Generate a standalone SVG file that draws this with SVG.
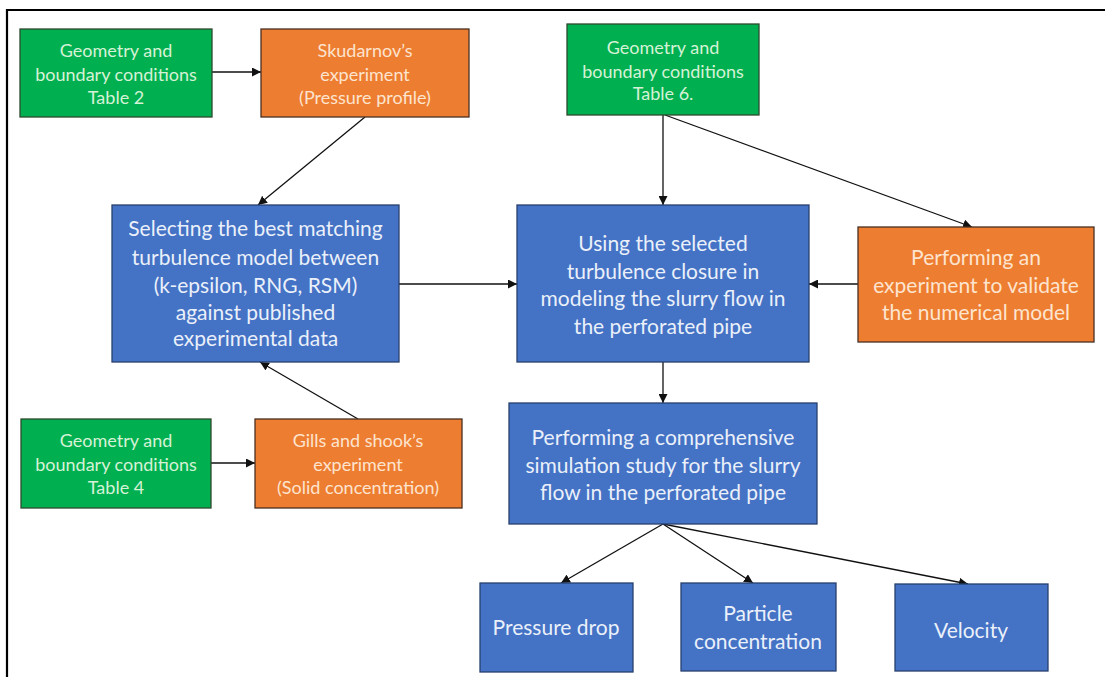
<svg xmlns="http://www.w3.org/2000/svg" width="1105" height="677" viewBox="0 0 1105 677">
<defs>
<marker id="ah" viewBox="0 0 10 10" refX="10" refY="5" markerWidth="9" markerHeight="9" markerUnits="userSpaceOnUse" orient="auto">
<path d="M0,0 L10,5 L0,10 z" fill="#111"/>
</marker>
<style>
.g{fill:#00b050;stroke:#2d4a2d;stroke-width:1.3}
.o{fill:#ed7d31;stroke:#4a3020;stroke-width:1.3}
.b{fill:#4472c4;stroke:#27406e;stroke-width:1.3}
text{font-family:Lato,"Open Sans","Liberation Sans",sans-serif;text-anchor:middle}
.gt{fill:#d6f2d6;font-size:18px}
.ot{fill:#fde4cf;font-size:18px}
.bt{fill:#eaf0fa;font-size:21px}
.ct line{stroke:#111;stroke-width:1.3;marker-end:url(#ah)}
</style>
</defs>
<rect x="0" y="0" width="1105" height="677" fill="#fff"/>
<path d="M7,677 V10 H1105" fill="none" stroke="#000" stroke-width="2.2"/>
<g class="ct" id="connectors">
<line x1="212" y1="72" x2="261" y2="72"/>
<line x1="365" y1="117" x2="258" y2="205"/>
<line x1="358" y1="419" x2="260" y2="362"/>
<line x1="211" y1="463" x2="255" y2="463"/>
<line x1="399" y1="284" x2="517" y2="284"/>
<line x1="663" y1="115" x2="663" y2="205"/>
<line x1="665" y1="115" x2="972" y2="227"/>
<line x1="858" y1="284" x2="809" y2="284"/>
<line x1="663" y1="362" x2="663" y2="403"/>
<line x1="663" y1="524" x2="561" y2="583"/>
<line x1="663" y1="524" x2="753" y2="583"/>
<line x1="663" y1="524" x2="968" y2="584"/>
</g>
<g id="g1"><rect class="g" x="20" y="29" width="192" height="88"/>
<text class="gt" x="116" y="56.5">Geometry and</text><text class="gt" x="116" y="80.5">boundary conditions</text><text class="gt" x="116" y="103.5">Table 2</text></g>
<g id="sk"><rect class="o" x="261" y="29" width="208" height="88"/>
<text class="ot" x="365" y="56.5">Skudarnov’s</text><text class="ot" x="365" y="80.5">experiment</text><text class="ot" x="365" y="103.5">(Pressure profile)</text></g>
<g id="g6"><rect class="g" x="567" y="24" width="192" height="91"/>
<text class="gt" x="663" y="53.5">Geometry and</text><text class="gt" x="663" y="77.5">boundary conditions</text><text class="gt" x="663" y="99.5">Table 6.</text></g>
<g id="sel"><rect class="b" x="112" y="205" width="287" height="157"/>
<text class="bt" x="255.5" y="235.5">Selecting the best matching</text><text class="bt" x="255.5" y="264.5">turbulence model between</text><text class="bt" x="255.5" y="292.5">(k-epsilon, RNG, RSM)</text><text class="bt" x="255.5" y="319.5">against published</text><text class="bt" x="255.5" y="345.5">experimental data</text></g>
<g id="using"><rect class="b" x="517" y="205" width="292" height="157"/>
<text class="bt" x="663" y="250.5">Using the selected</text><text class="bt" x="663" y="278.5">turbulence closure in</text><text class="bt" x="663" y="305.5">modeling the slurry flow in</text><text class="bt" x="663" y="333.5">the perforated pipe</text></g>
<g id="perf"><rect class="o" x="858" y="227" width="236" height="115"/>
<text class="ot" style="font-size:21px" x="976" y="264.5">Performing an</text><text class="ot" style="font-size:21px" x="976" y="292.5">experiment to validate</text><text class="ot" style="font-size:21px" x="976" y="319.5">the numerical model</text></g>
<g id="g4"><rect class="g" x="21" y="419" width="190" height="89"/>
<text class="gt" x="116" y="446.5">Geometry and</text><text class="gt" x="116" y="470.5">boundary conditions</text><text class="gt" x="116" y="493.5">Table 4</text></g>
<g id="gills"><rect class="o" x="255" y="419" width="207" height="89"/>
<text class="ot" x="358" y="446.5">Gills and shook’s</text><text class="ot" x="358" y="470.5">experiment</text><text class="ot" x="358" y="493.5">(Solid concentration)</text></g>
<g id="comp"><rect class="b" x="509" y="403" width="308" height="121"/>
<text class="bt" x="663" y="444.5">Performing a comprehensive</text><text class="bt" x="663" y="472.5">simulation study for the slurry</text><text class="bt" x="663" y="499.5">flow in the perforated pipe</text></g>
<g id="pd"><rect class="b" x="480" y="583" width="153" height="89"/>
<text class="bt" x="556" y="634.5">Pressure drop</text></g>
<g id="pc"><rect class="b" x="681" y="583" width="155" height="88"/>
<text class="bt" x="758" y="620.5">Particle</text><text class="bt" x="758" y="648.5">concentration</text></g>
<g id="vel"><rect class="b" x="895" y="584" width="153" height="87"/>
<text class="bt" x="971" y="637.5">Velocity</text></g>
</svg>
